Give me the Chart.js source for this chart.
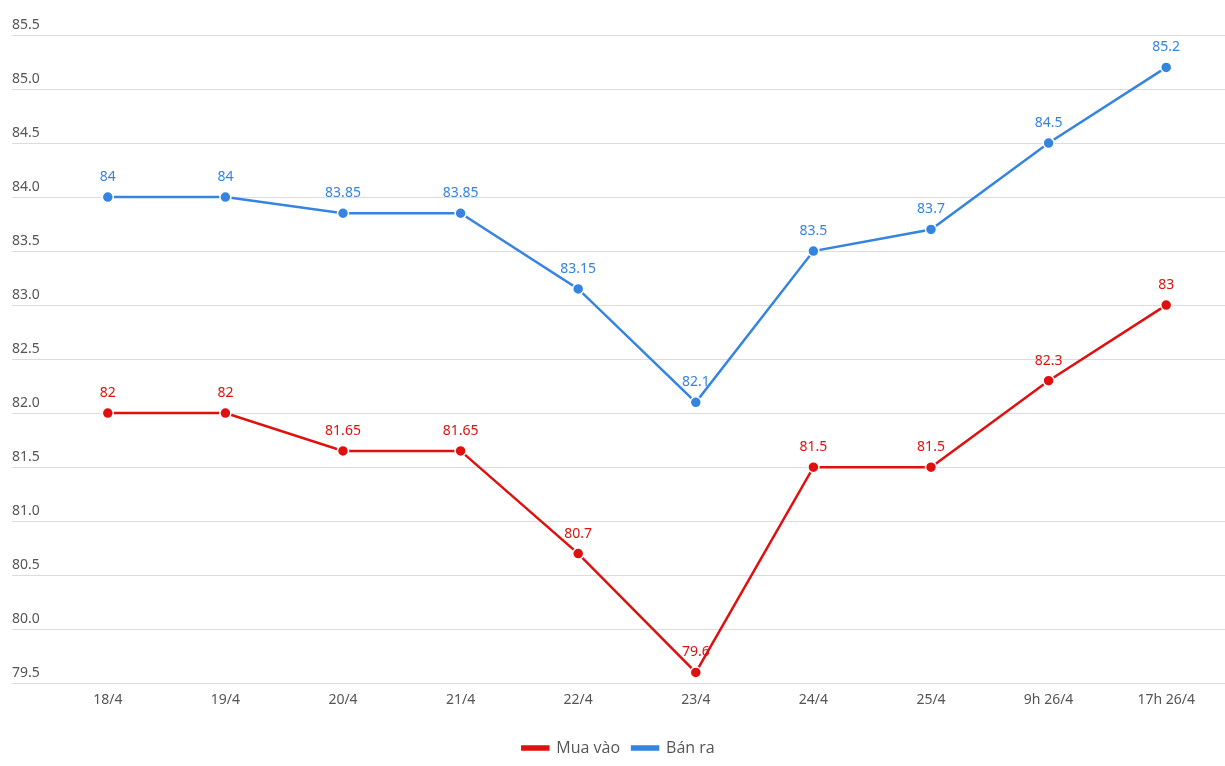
<!DOCTYPE html>
<html>
<head>
<meta charset="utf-8">
<script src="https://cdn.jsdelivr.net/npm/chart.js@4/dist/chart.umd.min.js"></script>
<style>
  html, body { margin: 0; padding: 0; background: #fff; }
  #wrap { width: 1225px; height: 766px; }
</style>
</head>
<body>
<div id="wrap"><canvas id="chart" width="1225" height="766"></canvas></div>
<script>
// ==============================
// DATA
// ==============================

const labels = ['18/4', '19/4', '20/4', '21/4', '22/4', '23/4', '24/4', '25/4', '9h 26/4', '17h 26/4'];
const muaVao = [82, 82, 81.65, 81.65, 80.7, 79.6, 81.5, 81.5, 82.3, 83];
const banRa = [84, 84, 83.85, 83.85, 83.15, 82.1, 83.5, 83.7, 84.5, 85.2];
const yMin = 79.5;
const yMax = 85.5;
const yStep = 0.5;

const RED = '#e0100f';
const BLUE = '#3584e0';

// Value labels above each point
const pointLabels = {
    id: 'pointLabels',
    afterDatasetsDraw(chart) {
        const ctx = chart.ctx;
        ctx.save();
        ctx.font = '14px "Noto Sans", sans-serif';
        ctx.textAlign = 'center';
        ctx.textBaseline = 'middle';
        chart.data.datasets.forEach((ds, i) => {
            const meta = chart.getDatasetMeta(i);
            ctx.fillStyle = ds.borderColor;
            meta.data.forEach((pt, j) => {
                ctx.fillText(String(ds.data[j]), pt.x, pt.y - 20);
            });
        });
        ctx.restore();
    }
};

new Chart(document.getElementById('chart'), {
    type: 'line',
    data: {
        labels: labels,
        datasets: [
            {
                label: 'Mua vào',
                data: muaVao,
                borderColor: RED,
                backgroundColor: RED,
                borderWidth: 2.5,
                pointRadius: 5.5,
                pointBackgroundColor: RED,
                pointBorderColor: '#fff',
                pointBorderWidth: 1.5,
                tension: 0
            },
            {
                label: 'Bán ra',
                data: banRa,
                borderColor: BLUE,
                backgroundColor: BLUE,
                borderWidth: 2.5,
                pointRadius: 5.5,
                pointBackgroundColor: BLUE,
                pointBorderColor: '#fff',
                pointBorderWidth: 1.5,
                tension: 0
            }
        ]
    },
    options: {
        responsive: false,
        animation: false,
        layout: { autoPadding: false, padding: { top: 35, left: 12, right: 0, bottom: 0 } },
        plugins: {
            tooltip: { enabled: false },
            legend: {
                position: 'bottom',
                labels: {
                    boxWidth: 26,
                    boxHeight: 3,
                    padding: 12,
                    color: '#555',
                    font: { family: '"Open Sans", sans-serif', size: 16 }
                }
            }
        },
        scales: {
            x: {
                offset: true,
                grid: { display: false },
                border: { display: false },
                afterFit(scale) { scale.height += 20; },
                ticks: {
                    color: '#555',
                    padding: 0,
                    font: { family: '"Noto Sans", sans-serif', size: 14 }
                }
            },
            y: {
                min: yMin,
                max: yMax,
                afterFit(scale) { scale.width = 37; },
                grid: { color: '#dcdcdc', lineWidth: 1, tickLength: 37, drawTicks: true },
                border: { display: false },
                ticks: {
                    stepSize: yStep,
                    crossAlign: 'far',
                    labelOffset: -10,
                    padding: 0,
                    color: '#555',
                    font: { family: '"Noto Sans", sans-serif', size: 14 },
                    callback: v => v.toFixed(1)
                }
            }
        }
    },
    plugins: [pointLabels]
});
</script>
</body>
</html>
